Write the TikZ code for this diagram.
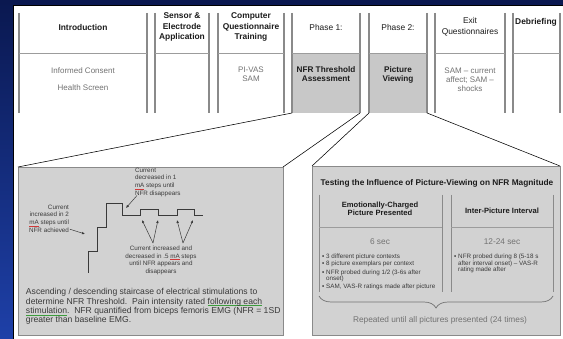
\documentclass[tikz,border=0pt]{standalone}
\usepackage{fontspec}
\setmainfont{Liberation Sans}
\usetikzlibrary{arrows.meta,decorations.pathreplacing}
\definecolor{bgblue}{HTML}{1E40A8}
\definecolor{navy}{HTML}{0A1850}
\definecolor{colline}{HTML}{8A8A8A}
\definecolor{sepline}{HTML}{9C9C9C}
\definecolor{boxgray}{HTML}{C8C8C8}
\definecolor{panelgray}{HTML}{D2D2D2}
\definecolor{txtgray}{HTML}{727272}
\definecolor{txtdark}{HTML}{1C1C1C}
\definecolor{txtmid}{HTML}{3A3A3A}
\definecolor{squigred}{HTML}{D03A3A}
\definecolor{squiggreen}{HTML}{3C9C3C}
\newcommand{\squig}[2]{\setbox0\hbox{#2}\rlap{\smash{\color{#1}\rule[-1.7pt]{\wd0}{0.6pt}}}#2}
\newcommand{\redsq}[1]{\squig{squigred}{#1}}
\newcommand{\grnsq}[1]{\squig{squiggreen}{#1}}
\tikzset{
  every node/.style={inner sep=0pt, outer sep=0pt},
  hdr/.style={font=\fontsize{8.4}{10.5}\selectfont\bfseries, text=txtdark, align=center},
  hdrreg/.style={font=\fontsize{8.4}{10.5}\selectfont, text=txtdark, align=center},
  bodytxt/.style={font=\fontsize{8}{9.2}\selectfont, text=txtgray, align=center},
  bodybold/.style={font=\fontsize{8.2}{9}\selectfont\bfseries, text=txtdark, align=center},
  colrule/.style={draw=colline, line width=1.2pt},
  seprule/.style={draw=sepline, line width=0.8pt},
  phasefill/.style={fill=boxgray, draw=none, anchor=north west},
  panel/.style={fill=panelgray, draw=colline, line width=0.8pt, anchor=north west},
  conn/.style={draw=black, line width=0.55pt},
  stair/.style={draw=txtmid, line width=0.9pt},
  lbl/.style={font=\fontsize{6.3}{7.6}\selectfont, text=txtmid},
  ptr/.style={draw=txtmid, line width=0.5pt, -{Latex[length=3pt,width=2.6pt]}},
  subhdr/.style={font=\fontsize{7.6}{8.4}\selectfont\bfseries, text=txtdark, align=center},
  bul/.style={font=\fontsize{6.3}{6.6}\selectfont, text=txtmid, align=left, anchor=north west},
  midtxt/.style={font=\fontsize{8.3}{9.3}\selectfont, text=txtgray},
}
\begin{document}
\begin{tikzpicture}[x=1pt,y=-1pt]
\useasboundingbox (0,0) rectangle (563,339);
% background
\shade[top color=navy, bottom color=bgblue] (0,0) rectangle (563,339);
\fill[navy] (0,0) rectangle (563,4);
\fill[white] (13,5) rectangle (563,339);
\draw[black, line width=0.8pt] (13,339) -- (13,5) -- (563,5);

% phase bodies
\node[phasefill, minimum width=68pt, minimum height=60pt] (p1body) at (292,53) {};
\node[phasefill, minimum width=58pt, minimum height=60pt] (p2body) at (369,53) {};

% columns
\foreach \l/\r in {19/147,155/209,218/284,292/360,369/427,435/505,513/560}{
  \draw[colrule] (\l,13) -- (\l,113);
  \draw[colrule] (\r,13) -- (\r,113);
  \draw[seprule] (\l,53) -- (\r,53);
}

% headers
\node[hdr] (hintro) at (83,28) {Introduction};
\node[hdr] (hsensor) at (182,27) {Sensor \&\\Electrode\\Application};
\node[hdr] (hcomp) at (251,27) {Computer\\Questionnaire\\Training};
\node[hdrreg] (hph1) at (326,28) {Phase 1:};
\node[hdrreg] (hph2) at (398,28) {Phase 2:};
\node[hdrreg] (hexit) at (470,27) {Exit\\Questionnaires};
\node[hdr] (hdebr) at (536,22) {Debriefing};

% bodies
\node[bodytxt] (bintro1) at (83,71) {Informed Consent};
\node[bodytxt] (bintro2) at (83,88) {Health Screen};
\node[bodytxt] (bcomp) at (251,74) {PI-VAS\\SAM};
\node[bodybold] (bph1) at (326,74.5) {NFR Threshold\\Assessment};
\node[bodybold] (bph2) at (398,74.5) {Picture\\Viewing};
\node[bodytxt] (bexit) at (470,79.5) {SAM – current\\affect; SAM –\\shocks};

% panels
\node[panel, minimum width=265pt, minimum height=168pt] (lp) at (18,167) {};
\node[panel, minimum width=248pt, minimum height=169pt] (rp) at (312,166) {};

% zoom connectors
\draw[conn] (p1body.south west) -- (lp.north west);
\draw[conn] (p1body.south east) -- (lp.north east);
\draw[conn] (p2body.south west) -- (rp.north west);
\draw[conn] (p2body.south east) -- (rp.north east);

% ---- left panel: staircase
\draw[stair] (88,273) -- (88,251) -- (97,251) -- (97,227) -- (106,227) -- (106,203)
  -- (122,203) -- (122,215) -- (140,215) -- (140,209) -- (158,209) -- (158,215)
  -- (177,215) -- (177,209) -- (194,209) -- (194,215) -- (203,215);

\node[lbl, align=left, anchor=north west] (lbldec) at (135,168)
  {Current\\decreased in 1\\\redsq{mA} steps until\\NFR disappears};
\coordinate (tipdec) at (126,208);
\draw[ptr] ([xshift=2pt,yshift=1pt]lbldec.south west) -- (tipdec);

\node[lbl, align=right, anchor=north east] (lblinc) at (69,205)
  {Current\\increased in 2\\\redsq{mA} steps until\\NFR achieved};
\coordinate (tipinc) at (85,234);
\draw[ptr] ([xshift=1pt,yshift=3pt]lblinc.south east) -- (tipinc);

\node[lbl, align=center, anchor=north] (lblboth) at (161,246)
  {Current increased and\\decreased in .5 \redsq{mA} steps\\until NFR appears and\\disappears};
\coordinate (src1) at (153,243);
\coordinate (src2) at (183,243);
\coordinate (t1) at (142,220);
\coordinate (t2) at (158,220);
\coordinate (t3) at (177,220);
\coordinate (t4) at (193,220);
\draw[ptr] (src1) -- (t1);
\draw[ptr] (src1) -- (t2);
\draw[ptr] (src2) -- (t3);
\draw[ptr] (src2) -- (t4);

\node[font=\fontsize{8.6}{9.4}\selectfont, text=txtmid, align=left, anchor=north west] (cap) at (26,288.5)
  {Ascending / descending staircase of electrical stimulations to\\
   determine NFR Threshold.\ \ Pain intensity rated \grnsq{following each}\\
   \grnsq{stimulation}.\ \ NFR quantified from biceps femoris EMG (NFR = 1SD\\
   greater than baseline EMG.};

% ---- right panel
\node[font=\fontsize{8.3}{9}\selectfont\bfseries, text=txtdark] (rtitle) at (437,183)
  {Testing the Influence of Picture-Viewing on NFR Magnitude};
\foreach \l/\r in {319/442,451/553}{
  \draw[colrule, line width=1pt] (\l,195) -- (\l,292);
  \draw[colrule, line width=1pt] (\r,195) -- (\r,292);
  \draw[seprule] (\l,227) -- (\r,227);
}
\node[subhdr] (sh1) at (380,209) {Emotionally-Charged\\Picture Presented};
\node[subhdr] (sh2) at (502,211) {Inter-Picture Interval};
\node[midtxt] (d1) at (380,242) {6 sec};
\node[midtxt] (d2) at (502,242) {12-24 sec};

\node[bul] (lb1) at (322,254) {▪\hspace{2pt}3 different picture contexts};
\node[bul] (lb2) at (322,261) {▪\hspace{2pt}8 picture exemplars per context};
\node[bul] (lb3) at (322,269.5) {▪\hspace{2pt}NFR probed during 1/2 (3-6s after\\\phantom{▪\hspace{2pt}}onset)};
\node[bul] (lb4) at (322,284) {▪\hspace{2pt}SAM, VAS-R ratings made after picture};
\node[bul] (rb1) at (454,254) {▪\hspace{2pt}NFR probed during 8 (5-18 s\\\phantom{▪\hspace{2pt}}after interval onset) – VAS-R\\\phantom{▪\hspace{2pt}}rating made after};

\coordinate (brl) at (319,296);
\coordinate (brr) at (553,296);
\draw[decorate, decoration={brace, mirror, amplitude=12pt}, draw=txtgray, line width=0.7pt] (brl) -- (brr);
\node[midtxt] (rep) at (440,320) {Repeated until all pictures presented (24 times)};
\end{tikzpicture}
\end{document}
